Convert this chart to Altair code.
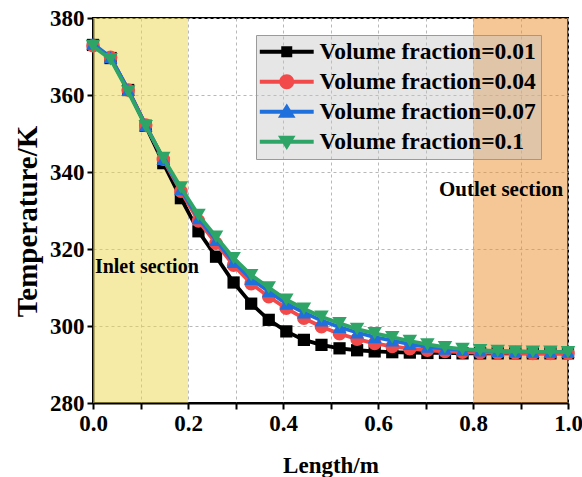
import altair as alt
import pandas as pd

# ---------------- data ----------------
lengths = [0.000, 0.037, 0.074, 0.111, 0.148, 0.185, 0.222, 0.259, 0.296, 0.333,
           0.370, 0.407, 0.444, 0.481, 0.519, 0.556, 0.593, 0.630, 0.667, 0.704,
           0.741, 0.778, 0.815, 0.852, 0.889, 0.926, 0.963, 1.000]

t_001 = [373.0, 369.6, 361.3, 352.0, 342.3, 333.2, 324.6, 318.0, 311.3, 305.8,
         301.6, 298.6, 296.4, 295.1, 294.2, 293.7, 293.4, 293.2, 293.1, 293.0,
         293.0, 292.9, 292.9, 292.9, 292.9, 292.9, 292.9, 292.9]
t_004 = [372.8, 369.8, 361.3, 352.2, 343.3, 335.0, 327.3, 321.5, 315.8, 311.0,
         307.6, 304.6, 302.0, 299.8, 298.0, 296.6, 295.5, 294.7, 294.1, 293.7,
         293.4, 293.2, 293.1, 293.0, 293.0, 292.9, 292.9, 292.9]
t_007 = [373.3, 369.8, 361.3, 352.1, 343.4, 335.5, 328.0, 322.3, 316.6, 312.2,
         309.0, 305.8, 303.5, 301.4, 299.7, 298.3, 297.1, 296.2, 295.3, 294.6,
         294.1, 293.8, 293.6, 293.5, 293.4, 293.3, 293.3, 293.3]
t_010 = [372.7, 369.3, 360.9, 351.9, 343.6, 336.0, 328.8, 323.2, 317.6, 313.2,
         310.0, 306.8, 304.5, 302.4, 300.7, 299.2, 298.1, 297.1, 296.1, 295.2,
         294.5, 294.0, 293.7, 293.5, 293.4, 293.3, 293.3, 293.2]

series_names = ["Volume fraction=0.01", "Volume fraction=0.04",
                "Volume fraction=0.07", "Volume fraction=0.1"]
series_values = [t_001, t_004, t_007, t_010]
series_colors = ["#000000", "#F24A4A", "#1F6FDC", "#2EA566"]
series_shapes = ["square", "circle", "triangle-up", "triangle-down"]
series_sizes = [150, 185, 190, 210]

# legend symbols: line segment + marker (custom SVG paths in unit space)
line_path = "M-2.45,-0.18H2.45V0.18H-2.45Z"
marker_paths = [
    "M-0.5,-0.5H0.5V0.5H-0.5Z",
    "M-0.68,0A0.68,0.68 0 1,1 0.68,0A0.68,0.68 0 1,1 -0.68,0Z",
    "M0,-0.75L0.8,0.55H-0.8Z",
    "M0,0.75L-0.8,-0.55H0.8Z",
]
legend_paths = [line_path + " " + p for p in marker_paths]

zone_start = [0.0, 0.8]
zone_end = [0.2, 1.0]
zone_low = [280, 280]
zone_high = [380, 380]
zone_colors = ["#EDD84D", "#EB8F2F"]

note_text = ["Inlet section", "Outlet section"]
note_x = [0.004, 0.99]
note_y = [315.3, 335.3]
note_align = ["left", "right"]

x_ticks = [0.0, 0.1, 0.2, 0.3, 0.4, 0.5, 0.6, 0.7, 0.8, 0.9, 1.0]
y_ticks = [280, 290, 300, 310, 320, 330, 340, 350, 360, 370, 380]

# ---------------- tables ----------------
rows = []
for name, vals in zip(series_names, series_values):
    for x, t in zip(lengths, vals):
        rows.append({"Length": x, "Temperature": t, "Series": name})
df = pd.DataFrame(rows)

zones = pd.DataFrame({"x1": zone_start, "x2": zone_end, "y1": zone_low,
                      "y2": zone_high, "c": zone_colors})
notes = pd.DataFrame({"text": note_text, "x": note_x, "y": note_y, "align": note_align})

FONT = "Liberation Serif"

xscale = alt.Scale(domain=[0, 1], nice=False, zero=False)
yscale = alt.Scale(domain=[280, 380], nice=False, zero=False)

x_axis = alt.Axis(
    values=x_ticks, title="Length/m", labelFlush=False,
    labelExpr="(round(datum.value*10) % 2 == 0) ? format(datum.value, '.1f') : ''",
    titleY=62, titleBaseline="middle",
)
y_axis = alt.Axis(
    values=y_ticks, title="Temperature/K", labelFlush=False,
    labelExpr="(round(datum.value/10) % 2 == 0) ? format(datum.value, 'd') : ''",
    titleX=-66, titleY=203, titleBaseline="middle", titleAlign="center",
)

layers = []
for zc in zone_colors:
    layers.append(
        alt.Chart(zones).transform_filter(alt.datum.c == zc).mark_rect(
            opacity=0.5, color=zc
        ).encode(
            x=alt.X("x1:Q", scale=xscale, axis=x_axis),
            x2="x2:Q",
            y=alt.Y("y1:Q", scale=yscale, axis=y_axis),
            y2="y2:Q",
        )
    )

for name, col, shp, sz in zip(series_names, series_colors, series_shapes, series_sizes):
    sub = alt.Chart(df).transform_filter(alt.datum.Series == name)
    line = sub.mark_line(color=col, strokeWidth=3.8).encode(
        x=alt.X("Length:Q", scale=xscale),
        y=alt.Y("Temperature:Q", scale=yscale),
    )
    pts = sub.mark_point(shape=shp, filled=True, color=col, size=sz, opacity=1).encode(
        x=alt.X("Length:Q", scale=xscale),
        y=alt.Y("Temperature:Q", scale=yscale),
    )
    layers += [line, pts]

legend_layer = alt.Chart(df).mark_point(filled=True, size=0, opacity=1).encode(
    x=alt.X("Length:Q", scale=xscale),
    y=alt.Y("Temperature:Q", scale=yscale),
    color=alt.Color(
        "Series:N",
        scale=alt.Scale(domain=series_names, range=series_colors),
        sort=series_names,
        legend=alt.Legend(
            title=None, orient="none", legendX=163, legendY=17,
            direction="vertical",
            fillColor="rgba(195,195,195,0.42)", strokeColor="#9a9a9a",
            padding=5, rowPadding=5, symbolSize=484,
            symbolOffset=14, labelOffset=21,
            symbolOpacity=1, symbolStrokeWidth=0,
            labelFont=FONT, labelFontWeight="bold", labelFontSize=23.5,
            labelColor="black", labelLimit=400, cornerRadius=0,
        ),
    ),
    shape=alt.Shape(
        "Series:N",
        scale=alt.Scale(domain=series_names, range=legend_paths),
        sort=series_names,
    ),
)
layers.append(legend_layer)

inlet = alt.Chart(notes).transform_filter(alt.datum.align == "left").mark_text(
    font=FONT, fontWeight="bold", fontSize=20, color="black", baseline="middle", align="left"
).encode(x=alt.X("x:Q", scale=xscale), y=alt.Y("y:Q", scale=yscale), text="text:N")
outlet = alt.Chart(notes).transform_filter(alt.datum.align == "right").mark_text(
    font=FONT, fontWeight="bold", fontSize=21, color="black", baseline="middle", align="right"
).encode(x=alt.X("x:Q", scale=xscale), y=alt.Y("y:Q", scale=yscale), text="text:N")
layers += [inlet, outlet]

chart = alt.layer(*layers).properties(
    width=475, height=385,
    autosize=alt.AutoSizeParams(type="none"),
    padding={"left": 93, "top": 18, "right": 14, "bottom": 74},
    background="white",
).configure_view(
    stroke="black", strokeWidth=2
).configure_axis(
    labelFont=FONT, labelFontWeight="bold", labelFontSize=23, labelColor="black",
    titleFont=FONT, titleFontWeight="bold", titleColor="black",
    domainColor="black", domainWidth=2, tickColor="black", tickWidth=2, tickSize=6,
    grid=True, gridColor="#b8b8b8", gridDash=[3, 3], gridWidth=1,
    labelPadding=3,
).configure_axisX(
    titleFontSize=23
).configure_axisY(
    titleFontSize=29
)

chart.save("out.html", embed_options={"renderer": "svg", "actions": False})
